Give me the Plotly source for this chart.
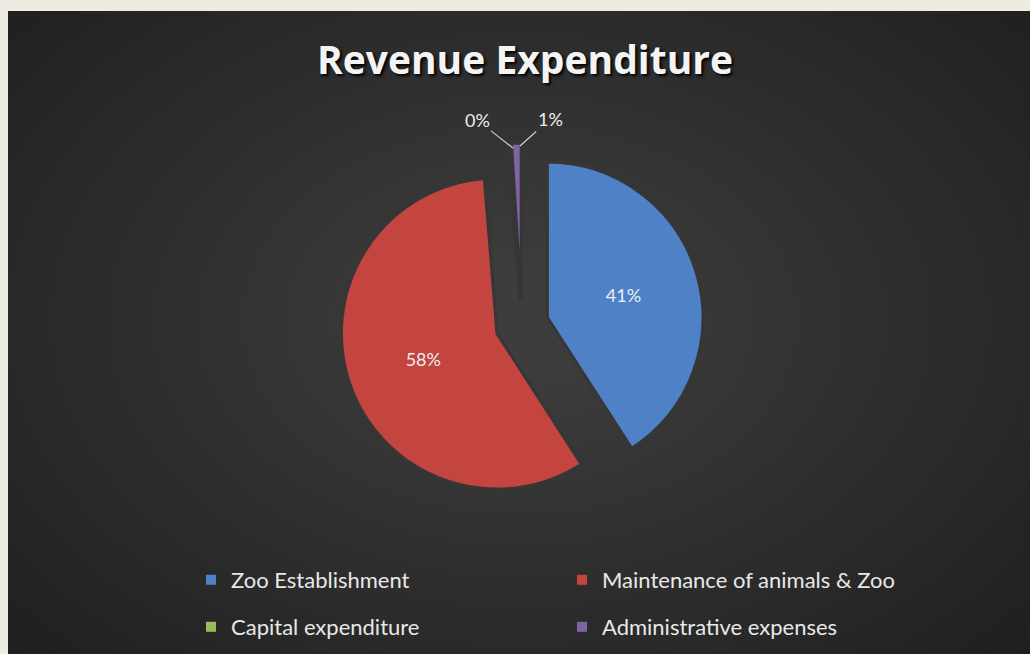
import plotly.graph_objects as go

W, H = 1030, 654

categories = ["Zoo Establishment", "Maintenance of animals & Zoo",
              "Capital expenditure", "Administrative expenses"]
values = [41, 58, 0.3, 1.0]
colors = ["#4f81c7", "#c4443f", "#9bbb59", "#8064a2"]
text_pos = ["inside", "inside", "none", "none"]
legend_rows = ["legend", "legend", "legend2", "legend2"]


def px_x(x):
    return x / W


def px_y(y):
    return 1 - y / H


shapes = [
    dict(type="rect", xref="paper", yref="paper",
         x0=px_x(8), x1=1.0, y0=0.0, y1=px_y(11),
         fillcolor="#1f1f1f", line=dict(width=0), layer="below"),
]
# radial glow approximating the panel's gradient
cx, cy = 520, 320
n = 30
for i in range(n):
    f = 1 - i / n
    rx, ry = 650 * f + 40, 450 * f + 30
    shapes.append(dict(type="circle", xref="paper", yref="paper",
                       x0=px_x(cx - rx), x1=px_x(cx + rx),
                       y0=px_y(cy + ry), y1=px_y(cy - ry),
                       fillcolor="rgba(255,255,255,0.009)",
                       line=dict(width=0), layer="below"))

R_TOTAL = 182
ccx, ccy = 522, 325

fig = go.Figure(go.Pie(
    labels=categories,
    values=values,
    sort=False,
    direction="clockwise",
    rotation=0,
    pull=[0.17, 0.17, 0.17, 0.17],
    marker=dict(colors=colors, line=dict(color="#363636", width=3)),
    texttemplate="%{percent:.0%}",
    textposition=text_pos,
    textfont=dict(family="Lato, Open Sans, sans-serif", size=18, color="#eeeeee"),
    insidetextorientation="horizontal",
    hoverinfo="skip",
    showlegend=False,
    domain=dict(x=[px_x(ccx - R_TOTAL), px_x(ccx + R_TOTAL)],
                y=[px_y(ccy + R_TOTAL), px_y(ccy - R_TOTAL)]),
))

# legend entries (two rows, two columns)
for name, col, lg in zip(categories, colors, legend_rows):
    fig.add_trace(go.Scatter(
        x=[None], y=[None], mode="markers", name=name, legend=lg,
        marker=dict(symbol="square", size=10, color=col),
        hoverinfo="skip",
    ))

# outside labels for the two tiny slices
total = sum(values)
annotations = []
label_specs = [(2, 513, 148, -36, -28), (3, 520, 146, 30, -27)]
for idx, hx, hy, ax, ay in label_specs:
    annotations.append(dict(
        text=f"{values[idx] / total * 100:.0f}%",
        xref="paper", yref="paper", x=px_x(hx), y=px_y(hy),
        ax=ax, ay=ay, showarrow=True, arrowhead=0, arrowwidth=1.2,
        arrowcolor="#cfcfcf", standoff=0,
        font=dict(family="Lato, Open Sans, sans-serif", size=18, color="#eeeeee"),
    ))

legend_common = dict(orientation="h", xanchor="left", yanchor="middle",
                     entrywidth=326, entrywidthmode="pixels", itemwidth=30,
                     font=dict(family="Lato, Open Sans, sans-serif", size=22,
                               color="#e8e8e8"),
                     bgcolor="rgba(0,0,0,0)", traceorder="normal")

fig.update_layout(
    width=W, height=H,
    margin=dict(l=0, r=0, t=0, b=0),
    paper_bgcolor="#eeece1",
    plot_bgcolor="rgba(0,0,0,0)",
    xaxis=dict(visible=False), yaxis=dict(visible=False),
    shapes=shapes,
    annotations=annotations,
    title=dict(text="<b>Revenue Expenditure</b>",
               x=px_x(525), xanchor="center",
               y=px_y(60), yanchor="middle",
               font=dict(family="Open Sans, Lato, sans-serif", size=39,
                         color="#f4f4f4", shadow="2px 2px 3px #000000")),
    legend=dict(x=px_x(191), y=px_y(580), **legend_common),
    legend2=dict(x=px_x(191), y=px_y(627), **legend_common),
    showlegend=True,
)

fig.write_html("out.html", config={"displayModeBar": False},
               post_script="document.body.style.margin='0';")
